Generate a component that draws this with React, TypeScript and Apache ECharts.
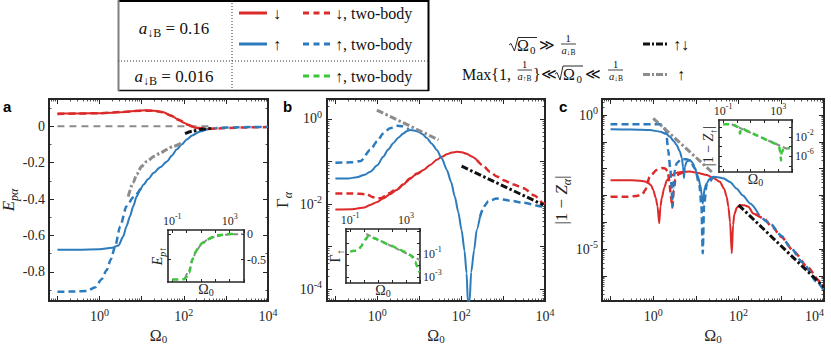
import React, { useEffect, useRef } from "react";
import * as echarts from "echarts";

const SERIF = "Liberation Serif, Times New Roman, DejaVu Serif, serif";
const SANS = "Liberation Sans, Arial, sans-serif";
const AXIS_COLOR = "#262626";
const RED = "#dc2a2a";
const BLUE = "#2c7bbd";
const GREEN = "#3cc63c";
const GRAY = "#8c8c8c";
const BLACK = "#111111";

// ---------------- data (x = log10 Ω0; y = log10 of value on log axes) ----------------
// panel a : E_pα (linear)
const aGrayZero = [[-1, 0], [2.65, 0]];
const aRedSolid = [[-1, 0.07], [-0.5, 0.071], [0, 0.072], [0.3, 0.074], [0.6, 0.079], [0.9, 0.086], [1.1, 0.088], [1.3, 0.086], [1.5, 0.078], [1.7, 0.06], [1.85, 0.04], [2.0, 0.02], [2.15, 0.002], [2.3, -0.01], [2.5, -0.016], [2.8, -0.012]];
const aRedDashed = [[-1, 0.068], [-0.5, 0.07], [0, 0.072], [0.5, 0.078], [1.0, 0.086], [1.3, 0.085], [1.5, 0.077], [1.7, 0.058], [1.9, 0.033], [2.1, 0.008], [2.3, -0.008], [2.6, -0.014], [3.0, -0.01], [3.5, -0.006], [4.0, -0.004]];
const aBlueSolid = [[-1, -0.679], [-0.5, -0.678], [0, -0.676], [0.3, -0.668], [0.45, -0.655], [0.56, -0.606], [0.64, -0.55], [0.72, -0.496], [0.8, -0.44], [0.88, -0.386], [0.96, -0.35], [1.04, -0.321], [1.16, -0.29], [1.28, -0.257], [1.44, -0.225], [1.6, -0.193], [1.72, -0.16], [1.83, -0.128], [1.95, -0.1], [2.07, -0.073], [2.2, -0.05], [2.39, -0.028], [2.6, -0.015], [2.78, -0.009]];
const aBlueDashedLow = [[-1, -0.909], [-0.6, -0.908], [-0.3, -0.905], [-0.1, -0.885], [0.05, -0.84], [0.17, -0.79], [0.27, -0.73], [0.37, -0.66], [0.49, -0.55], [0.64, -0.44], [0.8, -0.39], [1.0, -0.335]];
const aBlueDashedHigh = [[2.78, -0.008], [3.2, -0.006], [3.6, -0.004], [4.0, -0.003]];
const aGrayAsym = [[0.68, -0.386], [0.8, -0.31], [0.88, -0.265], [1.0, -0.22], [1.12, -0.193], [1.3, -0.165], [1.44, -0.147], [1.6, -0.127], [1.75, -0.11], [1.95, -0.092]];
const aBlackAsym = [[2.03, -0.04], [2.2, -0.027], [2.47, -0.015], [2.7, -0.01]];
// inset a : E_p↑ (linear)
const iaGreen = [[-1, -0.89], [-0.5, -0.89], [-0.2, -0.885], [0, -0.84], [0.17, -0.76], [0.4, -0.5], [0.6, -0.36], [0.85, -0.25], [1.1, -0.17], [1.42, -0.11], [1.8, -0.06], [2.1, -0.03], [2.6, -0.01], [3.0, 0], [3.34, 0]];
const iaGray = [[-0.1, -0.86], [0.2, -0.7], [0.4, -0.5], [0.7, -0.32], [1.0, -0.21], [1.5, -0.1], [2.0, -0.05], [2.5, -0.02], [3.0, -0.005], [3.9, 0]];

// panel b : log10 Γα
const bBlueSolid = [[-1, -1.4], [-0.7, -1.4], [-0.49, -1.37], [-0.3, -1.31], [-0.17, -1.24], [0, -1.09], [0.14, -0.89], [0.26, -0.72], [0.38, -0.57], [0.5, -0.44], [0.62, -0.34], [0.7, -0.29], [0.78, -0.26], [0.88, -0.27], [0.98, -0.3], [1.08, -0.36], [1.18, -0.45], [1.3, -0.58], [1.42, -0.73], [1.54, -0.93], [1.66, -1.2], [1.76, -1.48], [1.85, -1.83], [1.93, -2.18], [2.01, -2.61], [2.08, -3.1], [2.13, -3.63], [2.16, -4.3], [2.18, -5.5], [2.2, -4.3], [2.24, -3.6], [2.31, -3.08], [2.37, -2.61], [2.45, -2.3]];
const bBlueDashedLow = [[-1, -1.03], [-0.6, -1.02], [-0.4, -0.99], [-0.17, -0.73], [0, -0.52], [0.14, -0.34], [0.3, -0.22], [0.46, -0.16], [0.6, -0.17], [0.75, -0.24]];
const bBlueDashedHigh = [[2.45, -2.3], [2.55, -2.05], [2.65, -1.93], [2.85, -1.87], [3.17, -1.92], [3.48, -1.97], [3.96, -2.06], [4, -2.07]];
const bRedSolid = [[-1, -2.13], [-0.6, -2.12], [-0.3, -2.08], [-0.17, -2.02], [0, -1.95], [0.14, -1.87], [0.3, -1.77], [0.46, -1.67], [0.62, -1.54], [0.78, -1.4], [0.94, -1.29], [1.1, -1.2], [1.26, -1.08], [1.42, -0.96], [1.54, -0.89], [1.66, -0.83], [1.78, -0.79], [1.9, -0.77], [2.02, -0.78], [2.13, -0.82], [2.25, -0.88], [2.37, -0.96]];
const bRedDashedLow = [[-1, -1.75], [-0.6, -1.75], [-0.25, -1.77], [-0.1, -1.84], [-0.01, -1.87], [0.1, -1.86], [0.2, -1.8], [0.3, -1.74], [0.38, -1.69], [0.46, -1.67], [0.62, -1.54], [0.78, -1.4], [0.94, -1.29], [1.1, -1.2]];
const bRedDashedHigh = [[2.37, -0.96], [2.5, -1.08], [2.69, -1.24], [2.85, -1.35], [3.01, -1.44], [3.25, -1.54], [3.49, -1.63], [3.75, -1.8], [3.96, -1.98], [4, -2.0]];
const bGrayAsym = [[-0.01, 0.21], [1.46, -0.49]];
const bBlackAsym = [[2.01, -1.11], [3.96, -2.02]];
// inset b : log10 Γ↑
const ibGreen = [[-1, -0.77], [-0.7, -0.7], [-0.43, -0.62], [-0.2, -0.3], [-0.08, -0.02], [0.1, 0.3], [0.27, 0.57], [0.5, 0.52], [0.8, 0.36], [1.2, 0.13], [1.8, -0.17], [2.37, -0.46], [2.9, -0.79], [3.3, -1.06], [3.5, -1.3], [3.65, -1.66], [3.8, -2.1], [3.88, -2.4], [3.95, -2.6]];
const ibGray = [[0.15, 0.79], [4, -1.51]];

// panel c : log10 |1 - Zα|
const cBlueSolid = [[-1, -0.53], [-0.5, -0.54], [-0.08, -0.56], [0.16, -0.62], [0.3, -0.7], [0.39, -0.81], [0.48, -0.97], [0.55, -1.12], [0.62, -1.35], [0.67, -1.6], [0.7, -1.95], [0.72, -2.35], [0.74, -1.95], [0.78, -1.74], [0.86, -1.68], [0.93, -1.8], [0.98, -2.0], [1.05, -2.3], [1.1, -2.6], [1.14, -3.0], [1.16, -3.3], [1.18, -3.0], [1.21, -2.7], [1.25, -2.55], [1.32, -2.38], [1.41, -2.3], [1.52, -2.32], [1.64, -2.36], [1.8, -2.5], [1.95, -2.74], [2.1, -3.0], [2.27, -3.3], [2.48, -3.73]];
const cBlueDashedLow = [[-1, -0.34], [-0.5, -0.34], [0.16, -0.34], [0.24, -0.42], [0.3, -0.6], [0.35, -1.31], [0.4, -2.0], [0.43, -2.7], [0.45, -3.42], [0.47, -2.7], [0.5, -2.1], [0.55, -1.8], [0.65, -1.65], [0.78, -1.65], [0.86, -1.7], [0.98, -2.0], [1.08, -2.6], [1.13, -3.4], [1.16, -5.16], [1.19, -3.4], [1.25, -2.6], [1.41, -2.3]];
const cBlueDashedHigh = [[2.48, -3.73], [2.73, -4.04], [3.0, -4.5], [3.2, -4.91], [3.5, -5.5], [3.83, -6.22], [4, -6.55]];
const cRedSolid = [[-1, -2.43], [-0.5, -2.43], [-0.3, -2.45], [-0.15, -2.49], [-0.05, -2.62], [0, -2.8], [0.06, -3.1], [0.1, -3.4], [0.14, -4.04], [0.17, -3.4], [0.2, -3.1], [0.26, -2.7], [0.32, -2.43], [0.42, -2.26], [0.55, -2.15], [0.7, -2.12], [0.86, -2.11], [1.05, -2.16], [1.25, -2.24], [1.4, -2.34], [1.56, -2.49], [1.66, -2.75], [1.72, -3.05], [1.76, -3.42], [1.8, -4.0], [1.84, -5.16], [1.87, -4.1], [1.9, -3.7], [1.96, -3.45], [2.03, -3.36], [2.13, -3.37], [2.23, -3.42], [2.34, -3.67], [2.48, -3.78]];
const cRedDashedLow = [[-1, -3.05], [-0.6, -3.05], [-0.39, -3.02], [-0.25, -2.95], [-0.19, -2.8], [-0.08, -2.3], [0.08, -2.05], [0.2, -1.98], [0.28, -1.99], [0.34, -2.1], [0.38, -2.5], [0.41, -3.0], [0.45, -3.45], [0.48, -2.8], [0.52, -2.4], [0.6, -2.2], [0.7, -2.13]];
const cRedDashedHigh = [[2.4, -3.7], [2.58, -3.85], [2.8, -4.2], [3.0, -4.55], [3.3, -5.1], [3.6, -5.65], [3.9, -6.2], [4, -6.4]];
const cGrayAsym = [[0.0, -0.12], [1.41, -2.18]];
const cBlackAsym = [[2.0, -3.36], [4.0, -6.42]];
// inset c : log10 |1 - Z↑|
const icGreen = [[-1, 0.57], [-0.4, 0.57], [-0.2, 0.4], [0.05, 0.0], [0.15, -0.5], [0.22, -1.4], [0.28, -0.6], [0.4, -0.3], [0.8, -0.85], [1.5, -1.75], [2.2, -2.65], [2.8, -3.44], [3.05, -3.9], [3.15, -5.2], [3.2, -6.9], [3.25, -5.2], [3.4, -4.5], [3.6, -4.35], [3.85, -4.35]];
const icGray = [[-0.38, 0.57], [3.85, -4.75]];

// ---------------- axis ranges and tick labels ----------------
const MAIN_X = [-1.2, 4];
const INSET_X = [-1.3, 4];
const A_Y = [-0.96, 0.15];
const B_Y = [-4.28, 0.47];
const C_Y = [-6.94, 0.6];
const IA_Y = [-0.94, 0.08];
const IB_Y = [-3.54, 1.23];
const IC_Y = [-9.25, 1.45];
const mainXLabelExps = [0, 2, 4];
const aYLabels = [-0.8, -0.6, -0.4, -0.2, 0];
const aYMinor = [-0.9, -0.7, -0.5, -0.3, -0.1, 0.1];
const bYLabelExps = [0, -2, -4];
const cYLabelExps = [0, -5];
const insetXLabelExps = [-1, 3];
const iaYLabels = [0, -0.5];
const ibYLabelExps = [-1, -3];
const icYLabelExps = [-2, -6];
const icYTicks = [-8, -6, -4, -2, 0];

// ---------------- helpers ----------------
const intRange = (a: number, b: number) => {
  const r: number[] = [];
  for (let i = Math.ceil(a - 1e-9); i <= Math.floor(b + 1e-9); i++) r.push(i);
  return r;
};
const logMinor = (a: number, b: number) => {
  const r: number[] = [];
  for (let d = Math.floor(a) - 1; d <= Math.ceil(b); d++)
    for (let k = 2; k <= 9; k++) {
      const v = d + Math.log10(k);
      if (v > a + 1e-6 && v < b - 1e-6) r.push(v);
    }
  return r;
};
const powFmt = (v: number) => {
  const e = Math.round(v);
  return `{b|10}{s|${e < 0 ? "-" + Math.abs(e) : e}}`;
};
const linFmt = (v: number) => (Math.abs(v) < 1e-9 ? "0" : v.toFixed(1));
const powRich = (size: number) => ({
  b: { fontSize: size, fontFamily: SERIF, color: AXIS_COLOR, lineHeight: size + 5 },
  s: { fontSize: Math.round(size * 0.7), fontFamily: SERIF, color: AXIS_COLOR, lineHeight: Math.round(size * 0.7), verticalAlign: "top" },
});
const nameRich = (size: number, lh: number) => {
  const sub = Math.round(size * 0.7);
  return {
    n: { fontSize: size, fontFamily: SERIF, color: AXIS_COLOR, lineHeight: lh },
    i: { fontSize: size, fontFamily: SERIF, fontStyle: "italic", color: AXIS_COLOR, lineHeight: lh },
    s: { fontSize: sub, fontFamily: SERIF, color: AXIS_COLOR, lineHeight: sub, verticalAlign: "bottom" },
    si: { fontSize: sub, fontFamily: SERIF, fontStyle: "italic", color: AXIS_COLOR, lineHeight: sub, verticalAlign: "bottom" },
  };
};

type AxisCfg = {
  min: number; max: number; major: number[]; minor: number[];
  labels: number[]; fmt: (v: number) => string; rich?: any;
  labelSize: number; labelMargin: number; labelSide: string;
  name: string; nameGap: number; nameSize: number; nameLH: number;
  alignMax?: string;
};

function pushSide(list: any[], dim: "x" | "y", grid: number, pos: string, c: AxisCfg, majorLen: number, minorLen: number, lineW: number, withName: boolean) {
  const idx = list.length;
  const showLabels = c.labelSide === pos;
  const label: any = showLabels
    ? { show: true, customValues: c.labels, formatter: c.fmt, margin: c.labelMargin, fontFamily: SERIF, fontSize: c.labelSize, color: AXIS_COLOR, rich: c.rich, hideOverlap: false }
    : { show: false };
  if (showLabels && c.alignMax) label.alignMaxLabel = c.alignMax;
  list.push({
    type: "value", gridIndex: grid, position: pos, min: c.min, max: c.max,
    axisLine: { show: true, onZero: false, lineStyle: { color: AXIS_COLOR, width: lineW, cap: "square" } },
    axisTick: { show: true, inside: true, length: majorLen, customValues: c.major, lineStyle: { color: AXIS_COLOR, width: 1 } },
    minorTick: { show: false },
    splitLine: { show: false },
    axisLabel: label,
    name: withName ? c.name : "",
    nameLocation: "middle", nameGap: c.nameGap, nameRotate: dim === "y" ? 90 : 0,
    nameMoveOverlap: false,
    nameTextStyle: { fontFamily: SERIF, fontSize: c.nameSize, color: AXIS_COLOR, rich: nameRich(c.nameSize, c.nameLH) },
    axisPointer: { show: false }, silent: true,
  });
  if (c.minor.length) {
    list.push({
      type: "value", gridIndex: grid, position: pos, min: c.min, max: c.max,
      axisLine: { show: false, onZero: false },
      axisTick: { show: true, inside: true, length: minorLen, customValues: c.minor, lineStyle: { color: AXIS_COLOR, width: 0.8 } },
      minorTick: { show: false }, splitLine: { show: false }, axisLabel: { show: false },
      axisPointer: { show: false }, silent: true,
    });
  }
  return idx;
}

const xAxes: any[] = [];
const yAxes: any[] = [];
function addPanel(grid: number, xc: AxisCfg, yc: AxisCfg, majorLen: number, minorLen: number, lineW: number) {
  const xi = pushSide(xAxes, "x", grid, "bottom", xc, majorLen, minorLen, lineW, true);
  pushSide(xAxes, "x", grid, "top", xc, majorLen, minorLen, lineW, false);
  const yi = pushSide(yAxes, "y", grid, "left", yc, majorLen, minorLen, lineW, true);
  pushSide(yAxes, "y", grid, "right", yc, majorLen, minorLen, lineW, false);
  return { xi, yi };
}

const OMEGA = "{n|Ω}{s|0}";
const mainX = (alignMax?: string): AxisCfg => ({
  min: MAIN_X[0], max: MAIN_X[1], major: intRange(MAIN_X[0], MAIN_X[1]), minor: logMinor(MAIN_X[0], MAIN_X[1]),
  labels: mainXLabelExps, fmt: powFmt, rich: powRich(14), labelSize: 14, labelMargin: 6, labelSide: "bottom",
  name: OMEGA, nameGap: 25, nameSize: 16, nameLH: 18, alignMax,
});
const insetX = (): AxisCfg => ({
  min: INSET_X[0], max: INSET_X[1], major: intRange(INSET_X[0], INSET_X[1]), minor: [],
  labels: insetXLabelExps, fmt: powFmt, rich: powRich(12), labelSize: 12, labelMargin: 1, labelSide: "top",
  name: OMEGA, nameGap: -1, nameSize: 14, nameLH: 16,
});

const pA = addPanel(0, mainX(), {
  min: A_Y[0], max: A_Y[1], major: aYLabels, minor: aYMinor, labels: aYLabels, fmt: linFmt,
  labelSize: 14, labelMargin: 4, labelSide: "left", name: "{i|E}{si|pα}", nameGap: 29, nameSize: 17, nameLH: 23,
}, 5, 2.5, 2);
const pB = addPanel(1, mainX(), {
  min: B_Y[0], max: B_Y[1], major: intRange(B_Y[0], B_Y[1]), minor: logMinor(B_Y[0], B_Y[1]), labels: bYLabelExps, fmt: powFmt, rich: powRich(14),
  labelSize: 14, labelMargin: 5, labelSide: "left", name: "{n|Γ}{si|α}", nameGap: 33, nameSize: 17, nameLH: 23,
}, 5, 2.5, 2);
const pC = addPanel(2, mainX("right"), {
  min: C_Y[0], max: C_Y[1], major: intRange(C_Y[0], C_Y[1]), minor: logMinor(C_Y[0], C_Y[1]), labels: cYLabelExps, fmt: powFmt, rich: powRich(14),
  labelSize: 14, labelMargin: 4, labelSide: "left", name: "{n||1 − }{i|Z}{si|α}{n||}", nameGap: 29, nameSize: 17, nameLH: 23,
}, 5, 2.5, 2);
const pIA = addPanel(3, insetX(), {
  min: IA_Y[0], max: IA_Y[1], major: iaYLabels, minor: [], labels: iaYLabels, fmt: linFmt,
  labelSize: 12, labelMargin: 3, labelSide: "right", name: "{i|E}{si|p↑}", nameGap: 1, nameSize: 14, nameLH: 20,
}, 3, 1.5, 1.6);
const pIB = addPanel(4, insetX(), {
  min: IB_Y[0], max: IB_Y[1], major: intRange(IB_Y[0], IB_Y[1]), minor: [], labels: ibYLabelExps, fmt: powFmt, rich: powRich(12),
  labelSize: 12, labelMargin: 3, labelSide: "right", name: "{n|Γ}{s|↑}", nameGap: 1, nameSize: 14, nameLH: 20,
}, 3, 1.5, 1.6);
const pIC = addPanel(5, insetX(), {
  min: IC_Y[0], max: IC_Y[1], major: icYTicks, minor: [], labels: icYLabelExps, fmt: powFmt, rich: powRich(12),
  labelSize: 12, labelMargin: 3, labelSide: "right", name: "{n||1 − }{i|Z}{s|↑}{n||}", nameGap: 1, nameSize: 14, nameLH: 20,
}, 3, 1.5, 1.6);

const DASH = [7, 4];
const DASHDOT = [7, 2.5, 2.5, 2.5];

function ln(data: number[][], p: { xi: number; yi: number }, color: string, width: number, dash: any, extra: any = {}) {
  return {
    type: "line", xAxisIndex: p.xi, yAxisIndex: p.yi, data,
    symbol: "none", showSymbol: false, silent: true, clip: true,
    smooth: extra.smooth ?? 0.25, smoothMonotone: "x", z: extra.z ?? 2,
    lineStyle: { color, width, type: dash, dashOffset: extra.dashOffset ?? 0, cap: "butt", join: "round" },
    emphasis: { disabled: true },
  };
}

const series = [
  // panel a
  ln(aGrayZero, pA, GRAY, 2, [7, 5], { smooth: 0 }),
  ln(aRedSolid, pA, RED, 2, "solid"),
  ln(aBlueSolid, pA, BLUE, 2, "solid"),
  ln(aRedDashed, pA, RED, 2.5, DASH),
  ln(aBlueDashedLow, pA, BLUE, 2.5, DASH),
  ln(aBlueDashedHigh, pA, BLUE, 2.5, DASH, { dashOffset: 5.5 }),
  ln(aGrayAsym, pA, GRAY, 3, DASHDOT),
  ln(aBlackAsym, pA, BLACK, 3, DASHDOT),
  ln(iaGray, pIA, GRAY, 2, [5, 3]),
  ln(iaGreen, pIA, GREEN, 2.5, [6, 4]),
  // panel b
  ln(bRedSolid, pB, RED, 2, "solid"),
  ln(bBlueSolid, pB, BLUE, 2, "solid"),
  ln(bRedDashedLow, pB, RED, 2.5, DASH),
  ln(bRedDashedHigh, pB, RED, 2.5, DASH),
  ln(bBlueDashedLow, pB, BLUE, 2.5, DASH),
  ln(bBlueDashedHigh, pB, BLUE, 2.5, DASH),
  ln(bGrayAsym, pB, GRAY, 3, DASHDOT, { smooth: 0 }),
  ln(bBlackAsym, pB, BLACK, 3, DASHDOT, { smooth: 0 }),
  ln(ibGray, pIB, GRAY, 2, [5, 3], { smooth: 0 }),
  ln(ibGreen, pIB, GREEN, 2.5, [6, 4]),
  // panel c
  ln(cRedSolid, pC, RED, 2, "solid"),
  ln(cBlueSolid, pC, BLUE, 2, "solid"),
  ln(cRedDashedLow, pC, RED, 2.5, DASH),
  ln(cRedDashedHigh, pC, RED, 2.5, DASH),
  ln(cBlueDashedLow, pC, BLUE, 2.5, DASH),
  ln(cBlueDashedHigh, pC, BLUE, 2.5, DASH, { dashOffset: 5.5 }),
  ln(cGrayAsym, pC, GRAY, 3, DASHDOT, { smooth: 0 }),
  ln(cBlackAsym, pC, BLACK, 3, DASHDOT, { smooth: 0 }),
  ln(icGray, pIC, GRAY, 2, [5, 3], { smooth: 0 }),
  ln(icGreen, pIC, GREEN, 2.5, [6, 4]),
];

// ---------------- graphic (legend table, formulas, panel letters) ----------------
const L = (x1: number, y1: number, x2: number, y2: number, stroke: string, lineWidth: number, lineDash?: number[]) => ({
  type: "line", silent: true, shape: { x1, y1, x2, y2 },
  style: { stroke, lineWidth, lineDash: lineDash || null, lineCap: "butt" },
});
const richMain = {
  i: { fontSize: 17, fontFamily: SERIF, fontStyle: "italic", lineHeight: 22 },
  n: { fontSize: 17, fontFamily: SERIF, lineHeight: 22 },
  s: { fontSize: 12, fontFamily: SERIF, lineHeight: 12, verticalAlign: "bottom" },
};
const richFrac = {
  i: { fontSize: 10.5, fontFamily: SERIF, fontStyle: "italic", lineHeight: 12 },
  s: { fontSize: 7.5, fontFamily: SERIF, lineHeight: 7, verticalAlign: "bottom" },
};
const T = (x: number, y: number, text: string, size = 14, align = "left", rich?: any, extra: any = {}) => ({
  type: "text", silent: true, x, y,
  style: {
    text, fill: extra.fill || "#111", fontSize: size, fontFamily: extra.fontFamily || SERIF,
    fontWeight: extra.fontWeight || "normal", align, verticalAlign: "middle",
    textAlign: align, textVerticalAlign: "middle", rich,
  },
});
const SQ = (pts: number[][]) => ({
  type: "polyline", silent: true, shape: { points: pts },
  style: { stroke: "#111", lineWidth: 0.9, fill: null },
});
const LEG_DASH = [6, 4.5];
const LEG_DD = [7, 2, 2, 2];

const graphics = [
  // table
  L(118, 1, 429, 1, "#000", 2),
  L(118, 90.5, 429, 90.5, "#111", 1.5),
  L(118.5, 0, 118.5, 91, "#7f7f7f", 2),
  L(428.5, 0, 428.5, 91, "#000", 2),
  L(232, 0, 232, 91, "#333", 1, [1, 2]),
  L(118, 61, 429, 61, "#333", 1, [1, 2]),
  T(174, 28, "{i|a}{s|↓B}{n| = 0.16}", 17, "center", richMain),
  T(174, 76, "{i|a}{s|↓B}{n| = 0.016}", 17, "center", richMain),
  L(239, 13, 267, 13, RED, 3), T(273, 13, "↓", 16),
  L(303, 13, 331, 13, RED, 3, LEG_DASH), T(335, 13, "↓, two-body", 16),
  L(239, 44, 267, 44, BLUE, 3), T(273, 44, "↑", 16),
  L(303, 44, 331, 44, BLUE, 3, LEG_DASH), T(335, 44, "↑, two-body", 16),
  L(303, 76, 331, 76, GREEN, 3, LEG_DASH), T(335, 76, "↑, two-body", 16),
  // formula row A
  SQ([[509, 45], [511, 43.5], [514.5, 51], [518, 37.5], [537, 37.5]]),
  T(517, 45, "Ω", 16), T(530, 49.5, "0", 11),
  T(539, 45, "≫", 15),
  T(568, 38.5, "1", 10.5, "center"), L(561, 44, 576, 44, "#111", 0.8), T(568.5, 50, "{i|a}{s|↓B}", 10.5, "center", richFrac),
  L(643, 44, 668, 44, BLACK, 3, LEG_DD), T(673, 44, "↑↓", 16),
  // formula row B
  T(462, 74, "Max{1,", 16),
  T(524.5, 64.5, "1", 10.5, "center"), L(517.5, 70, 532, 70, "#111", 0.8), T(524.5, 76, "{i|a}{s|↑B}", 10.5, "center", richFrac),
  T(533, 74, "}", 16),
  T(541, 74, "≪", 15),
  SQ([[555, 74], [557, 72.5], [560, 80], [563, 66], [583, 66]]),
  T(563, 74, "Ω", 16), T(576.5, 78.5, "0", 11),
  T(585, 74, "≪", 15),
  T(615.5, 64, "1", 10.5, "center"), L(608, 70, 623, 70, "#111", 0.8), T(616, 76, "{i|a}{s|↓B}", 10.5, "center", richFrac),
  L(643, 74.5, 668, 74.5, GRAY, 3, LEG_DD), T(677, 74, "↑", 16),
  // panel letters
  T(3, 106, "a", 15, "left", undefined, { fontFamily: SANS, fontWeight: "bold", fill: "#000" }),
  T(283, 106, "b", 15, "left", undefined, { fontFamily: SANS, fontWeight: "bold", fill: "#000" }),
  T(559, 106, "c", 15, "left", undefined, { fontFamily: SANS, fontWeight: "bold", fill: "#000" }),
];

const grids = [
  { left: 49, top: 99, width: 219, height: 202 },
  { left: 327, top: 99, width: 218, height: 202 },
  { left: 602, top: 99, width: 222, height: 202 },
  { left: 168, top: 230, width: 76, height: 52 },
  { left: 346, top: 229, width: 74, height: 54 },
  { left: 719, top: 120, width: 73, height: 52 },
].map((g) => ({ ...g, containLabel: false, outerBoundsMode: "none", show: false }));

export default function App() {
  const ref = useRef<HTMLDivElement>(null);
  useEffect(() => {
    if (!ref.current) return;
    const chart = echarts.init(ref.current, undefined, { renderer: "svg" });
    chart.setOption({
      animation: false,
      backgroundColor: "#ffffff",
      textStyle: { fontFamily: SERIF },
      grid: grids,
      xAxis: xAxes,
      yAxis: yAxes,
      series,
      graphic: { elements: graphics },
    });
    return () => chart.dispose();
  }, []);
  return (
    <div
      ref={ref}
      style={{ position: "fixed", left: 0, top: 0, width: 831, height: 345, background: "#fff" }}
    />
  );
}
